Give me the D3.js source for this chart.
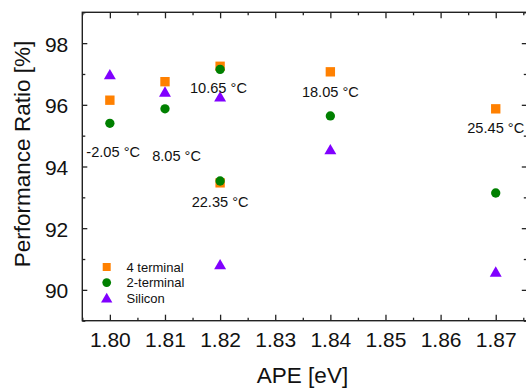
<!DOCTYPE html>
<html>
<head>
<meta charset="utf-8">
<script src="https://cdn.jsdelivr.net/npm/d3@7"></script>
<style>
  body { margin: 0; background: #fff; }
  svg { display: block; font-family: "Liberation Sans", Arial, sans-serif; }
</style>
</head>
<body>
<div id="chart"></div>
<script>
// APE values for each measurement
var ape = [1.80, 1.81, 1.82, 1.82, 1.84, 1.87];
var fourTerminal = [96.15, 96.75, 97.25, 93.47, 97.07, 95.87];
var twoTerminal = [95.40, 95.87, 97.15, 93.53, 95.64, 93.14];
var silicon = [96.97, 96.41, 96.25, 90.81, 94.54, 90.57];

// temperature annotations (text, APE, ratio)
var tempText = ["-2.05 °C", "8.05 °C", "10.65 °C", "18.05 °C", "22.35 °C", "25.45 °C"];
var tempApe = [1.8006, 1.8121, 1.8197, 1.84, 1.82, 1.87];
var tempRatio = [94.30, 94.19, 96.38, 96.25, 92.68, 95.08];

var xMajor = [1.80, 1.81, 1.82, 1.83, 1.84, 1.85, 1.86, 1.87];
var xMinor = [1.795, 1.805, 1.815, 1.825, 1.835, 1.845, 1.855, 1.865, 1.875];
var yMajor = [90, 92, 94, 96, 98];
var yMinor = [89, 91, 93, 95, 97, 99];

var seriesNames = ["4 terminal", "2-terminal", "Silicon"];
var seriesColors = ["#ff8000", "#008000", "#8000ff"];

var chart = {
  width: 526,
  height: 388,
  top: 12.3,
  bottom: 320.7,
  left: 82.3,
  right: 528.8,
}

var svg = d3.select("#chart")
  .append("svg")
  .attr("width", chart.width)
  .attr("height", chart.height);

var x = d3.scaleLinear()
  .domain([1.795, 1.876])
  .range([chart.left, chart.right]);

var y = d3.scaleLinear()
  .domain([89, 99])
  .range([chart.bottom, chart.top]);

/* frame */
svg.append("rect")
  .attr("x", chart.left)
  .attr("y", chart.top)
  .attr("width", chart.right - chart.left)
  .attr("height", chart.bottom - chart.top)
  .style("fill", "none")
  .style("stroke", "#222")
  .style("stroke-width", 1.4);

function styleAxis(g) {
  g.select(".domain").remove();
  g.selectAll(".tick line").style("stroke", "#222").style("stroke-width", 1.3);
  g.selectAll("text").style("font-size", "21px").style("fill", "#111")
    .style("font-family", "'Liberation Sans', Arial, sans-serif");
}

/* bottom axis */
svg.append("g")
  .attr("transform", `translate(0, ${chart.bottom})`)
  .call(d3.axisBottom(x).tickValues(xMajor).tickSize(-6).tickPadding(11).tickFormat(d3.format(".2f")))
  .call(styleAxis);
svg.append("g")
  .attr("transform", `translate(0, ${chart.bottom})`)
  .call(d3.axisBottom(x).tickValues(xMinor).tickSize(-3).tickFormat(""))
  .call(styleAxis);

/* top axis */
svg.append("g")
  .attr("transform", `translate(0, ${chart.top})`)
  .call(d3.axisTop(x).tickValues(xMajor).tickSize(-6).tickFormat(""))
  .call(styleAxis);
svg.append("g")
  .attr("transform", `translate(0, ${chart.top})`)
  .call(d3.axisTop(x).tickValues(xMinor).tickSize(-3).tickFormat(""))
  .call(styleAxis);

/* left axis */
svg.append("g")
  .attr("transform", `translate(${chart.left}, 0)`)
  .call(d3.axisLeft(y).tickValues(yMajor).tickSize(-5).tickPadding(14))
  .call(styleAxis)
  .selectAll("text").attr("dy", "0.38em");
svg.append("g")
  .attr("transform", `translate(${chart.left}, 0)`)
  .call(d3.axisLeft(y).tickValues(yMinor).tickSize(-3).tickFormat(""))
  .call(styleAxis);

/* right axis */
svg.append("g")
  .attr("transform", `translate(${chart.right}, 0)`)
  .call(d3.axisRight(y).tickValues(yMajor).tickSize(-7).tickFormat(""))
  .call(styleAxis);
svg.append("g")
  .attr("transform", `translate(${chart.right}, 0)`)
  .call(d3.axisRight(y).tickValues(yMinor).tickSize(-5).tickFormat(""))
  .call(styleAxis);

/* axis titles */
svg.append("text")
  .attr("x", 302.5)
  .attr("y", 383)
  .attr("text-anchor", "middle")
  .style("font-size", "22.5px")
  .style("fill", "#111")
  .text("APE [eV]");

svg.append("text")
  .attr("transform", "translate(29.5, 154) rotate(-90)")
  .attr("text-anchor", "middle")
  .style("font-size", "22.5px")
  .style("fill", "#111")
  .text("Performance Ratio [%]");

/* markers */
var square = d3.symbol().type(d3.symbolSquare).size(88);
var circle = d3.symbol().type(d3.symbolCircle).size(68);
var triangle = d3.symbol().type(d3.symbolTriangle).size(62);
var symbols = [square, circle, triangle];
var series = [fourTerminal, twoTerminal, silicon];

for (let i = 0; i < series.length; i++) {
  svg.append("g")
    .selectAll("path")
    .data(series[i])
    .enter()
    .append("path")
    .attr("d", symbols[i])
    .attr("transform", (d, j) => `translate(${x(ape[j])}, ${y(d) + (i === 2 ? 1 : 0)})`)
    .style("fill", seriesColors[i]);
}

/* temperature labels */
svg.append("g")
  .selectAll("text")
  .data(tempText)
  .enter()
  .append("text")
  .attr("x", (d, i) => x(tempApe[i]))
  .attr("y", (d, i) => y(tempRatio[i]))
  .attr("text-anchor", "middle")
  .style("font-size", "14.6px")
  .style("fill", "#111")
  .text((d) => d);

/* legend */
var legendSymbols = [
  d3.symbol().type(d3.symbolSquare).size(64),
  d3.symbol().type(d3.symbolCircle).size(60),
  d3.symbol().type(d3.symbolTriangle).size(56),
];
for (let i = 0; i < seriesNames.length; i++) {
  let ly = 267 + i * 15.6;
  svg.append("path")
    .attr("d", legendSymbols[i])
    .attr("transform", `translate(106.7, ${ly + (i === 2 ? 1 : 0)})`)
    .style("fill", seriesColors[i]);
  svg.append("text")
    .attr("x", 126.5)
    .attr("y", ly + 4.6)
    .style("font-size", "13px")
    .style("fill", "#111")
    .text(seriesNames[i]);
}
</script>
</body>
</html>
